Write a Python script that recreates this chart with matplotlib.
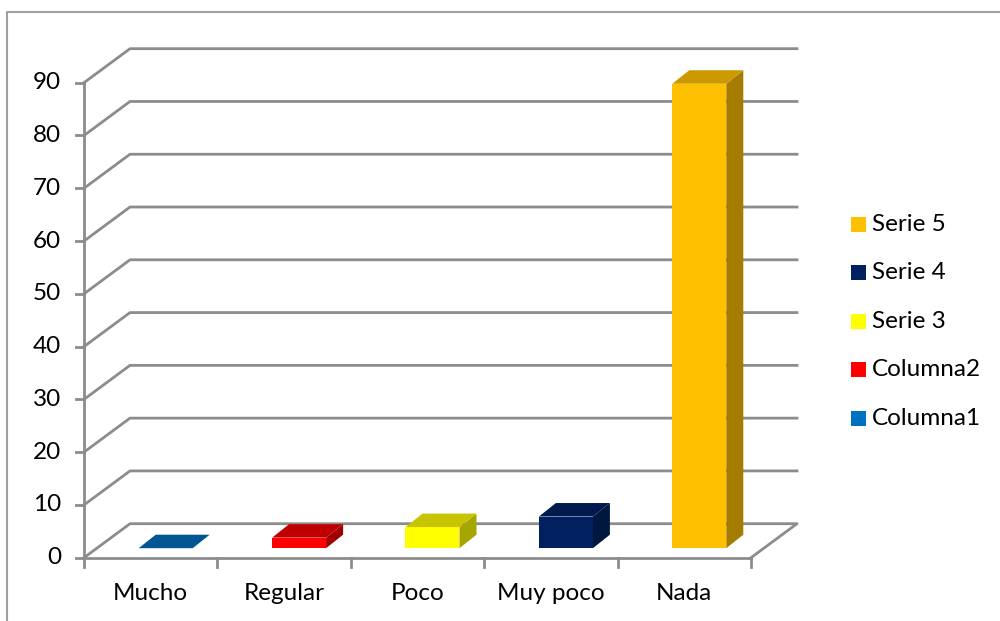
import matplotlib
matplotlib.use("Agg")
import matplotlib.pyplot as plt
from matplotlib.patches import Polygon, Rectangle

# ---- data ----
categories = ["Mucho", "Regular", "Poco", "Muy poco", "Nada"]
values = [0, 2, 4, 6, 88]
series_names = ["Columna1", "Columna2", "Serie 3", "Serie 4", "Serie 5"]
front_colors = ["#0070C0", "#FF0000", "#FFFF00", "#002060", "#FFC000"]
top_colors = ["#005694", "#C00000", "#C8C400", "#001A4D", "#CC9A00"]
side_colors = ["#004A7F", "#A00000", "#A6A600", "#00173F", "#A67C00"]
y_ticks = list(range(0, 100, 10))

# ---- pixel geometry helpers (style only) ----
W, H = 1000, 621
PX_CAT = 133.4      # px per category
PX_VAL = 5.278      # px per value unit
X0_PX = 84          # px of x=0 (front plane)
Y0_PX = 557.7       # px (from top) of value 0 (front plane)

def dx(px):
    return px / PX_CAT

def dy(px):
    return px / PX_VAL

FS = 17.5
FONT = ["Lato", "DejaVu Sans"]

fig = plt.figure(figsize=(W / 100, H / 100), dpi=100)
ax = fig.add_axes([0, 0, 1, 1])
ax.set_xlim(-X0_PX / PX_CAT, (W - X0_PX) / PX_CAT)
ax.set_ylim((Y0_PX - H) / PX_VAL, Y0_PX / PX_VAL)
ax.axis("off")

grid_c = "#8C8C8C"
n = len(categories)
fdx, fdy = dx(46), dy(34)        # floor depth
bfx, bfy = dx(12), dy(9.5)       # bar front-face depth offset
bdx, bdy = dx(17), dy(13.5)      # bar depth
bw = dx(54)                      # bar width

# outer border
ax.plot([dx(7 - X0_PX), dx(7 - X0_PX), dx(W - X0_PX)],
        [dy(Y0_PX - H), dy(Y0_PX - 12), dy(Y0_PX - 12)],
        color="#A0A0A0", lw=1.5, zorder=1)

# gridlines (left wall + back wall)
for v in y_ticks:
    if v == 0:
        continue
    ax.plot([0, fdx, n + fdx], [v, v + fdy, v + fdy], color=grid_c, lw=2, zorder=2)

# floor
ax.plot([0, fdx, n + fdx, n], [0, fdy, fdy, 0], color=grid_c, lw=2, zorder=2)
ax.plot([0, n], [0, 0], color=grid_c, lw=2, zorder=2)
# y axis
ax.plot([0, 0], [0, y_ticks[-1]], color=grid_c, lw=2, zorder=2)
for v in y_ticks:
    ax.plot([-dx(8), 0], [v, v], color=grid_c, lw=2, zorder=2)
    ax.text(-dx(23), v, str(v), ha="right", va="center", fontsize=FS,
            family=FONT, color="black")
# x ticks
for i in range(n + 1):
    ax.plot([i, i], [0, -dy(9)], color=grid_c, lw=2, zorder=2)
for i, c in enumerate(categories):
    ax.text(i + 0.5, -dy(36), c, ha="center", va="center", fontsize=FS,
            family=FONT, color="black")

# bars
for i, v in enumerate(values):
    x0 = i + 0.5 - bw / 2 + dx(3) + bfx
    y0 = bfy
    front = Polygon([(x0, y0), (x0 + bw, y0), (x0 + bw, y0 + v), (x0, y0 + v)],
                    closed=True, facecolor=front_colors[i], edgecolor="none", zorder=5)
    top = Polygon([(x0, y0 + v), (x0 + bw, y0 + v), (x0 + bw + bdx, y0 + v + bdy),
                   (x0 + bdx, y0 + v + bdy)],
                  closed=True, facecolor=top_colors[i], edgecolor="none", zorder=5)
    side = Polygon([(x0 + bw, y0), (x0 + bw + bdx, y0 + bdy),
                    (x0 + bw + bdx, y0 + v + bdy), (x0 + bw, y0 + v)],
                   closed=True, facecolor=side_colors[i], edgecolor="none", zorder=5)
    if v > 0:
        ax.add_patch(front)
        ax.add_patch(side)
    ax.add_patch(top)

# legend (reversed order)
leg_x = dx(851 - X0_PX)
for k, idx in enumerate(reversed(range(n))):
    yc = dy(Y0_PX - (224 + k * 48.6))
    ax.add_patch(Rectangle((leg_x, yc - dy(7.5)), dx(15), dy(15),
                           facecolor=front_colors[idx], edgecolor="none"))
    ax.text(leg_x + dx(21), yc, series_names[idx], ha="left", va="center",
            fontsize=FS, family=FONT, color="black")

fig.savefig("out.png", dpi=100)
